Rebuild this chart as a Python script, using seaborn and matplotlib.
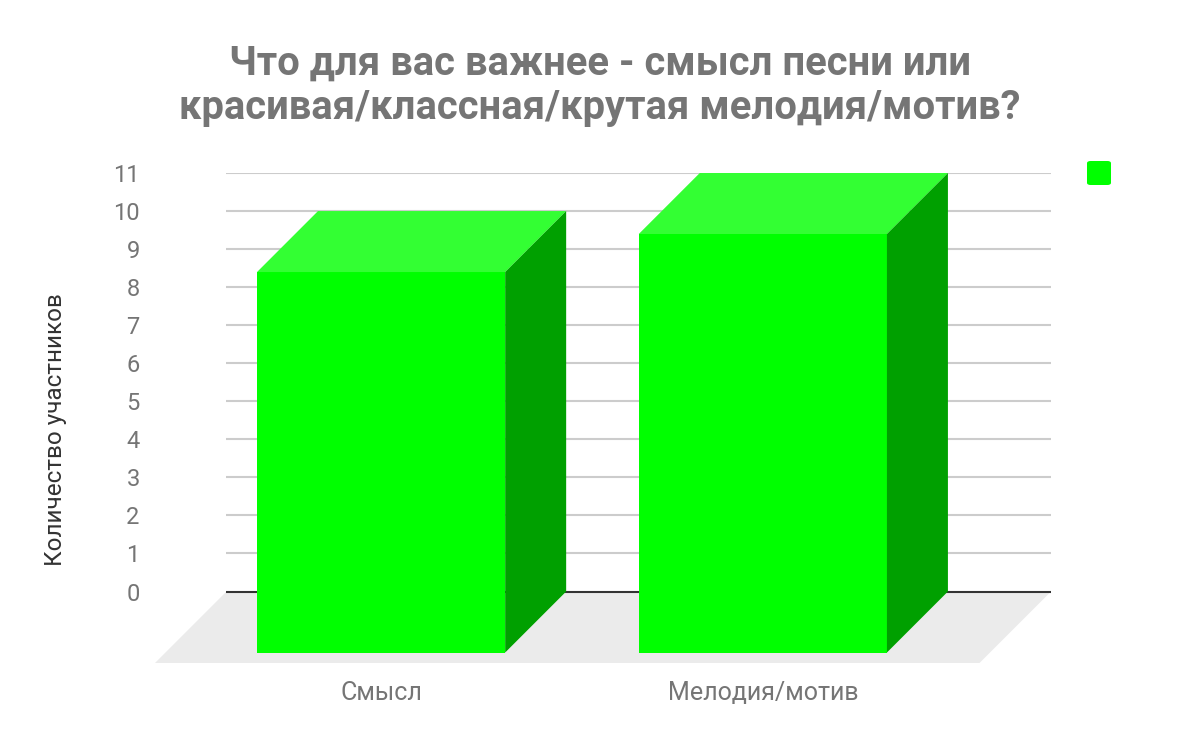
import matplotlib
matplotlib.use("Agg")
import matplotlib.pyplot as plt
import seaborn as sns
from matplotlib.patches import Polygon, FancyBboxPatch

# Данные
categories = ["Смысл", "Мелодия/мотив"]
values = [10, 11]
y_ticks = list(range(0, 12))

title = "Что для вас важнее - смысл песни или\nкрасивая/классная/крутая мелодия/мотив?"
y_label = "Количество участников"

# Цвета
front_color = "#00ff00"
top_color = "#33ff33"
side_color = "#00a000"
floor_color = "#ebebeb"
grid_color = "#cccccc"
text_color = "#757575"

sns.set_style("white")
plt.rcParams["font.family"] = ["Roboto", "DejaVu Sans"]

W, H = 1200, 742
fig = plt.figure(figsize=(12, 7.42), dpi=100)

# оси в пикселях (с запасом под "пол")
left_px, right_px, top_px, bottom_px = 155, 1051, 173, 663
ax = fig.add_axes([left_px / W, (H - bottom_px) / H,
                   (right_px - left_px) / W, (bottom_px - top_px) / H])

sns.barplot(x=categories, y=values, color=front_color, width=0.65,
            saturation=1, ax=ax, zorder=3)

# масштаб: px на единицу
x_lo, x_hi = -0.752, 1.595
y_lo, y_hi = -1.879, 11
ax.set_xlim(x_lo, x_hi)
ax.set_ylim(y_lo, y_hi)
px_x = (right_px - left_px) / (x_hi - x_lo)
px_y = (bottom_px - top_px) / (y_hi - y_lo)

# глубина объёма
bar_dx, bar_dy = 61 / px_x, 61 / px_y
floor_dx, floor_dy = -y_lo * px_y / px_x, -y_lo
back_left = x_lo + floor_dx

# пол
ax.add_patch(Polygon([(x_lo, y_lo), (x_hi - floor_dx, y_lo), (x_hi, 0), (back_left, 0)],
                     closed=True, facecolor=floor_color, edgecolor="none", zorder=0))
# сетка
ax.hlines(y_ticks[1:], back_left, x_hi, color=grid_color, lw=1.5, zorder=1)
ax.hlines(0, back_left, x_hi, color="#333333", lw=1.5, zorder=1)

# объёмные столбцы
for p in list(ax.patches):
    if not hasattr(p, "get_height") or p.get_height() == 0:
        continue
    x, w, h = p.get_x(), p.get_width(), p.get_height()
    p.set_x(x - bar_dx)
    p.set_y(-bar_dy)
    p.set_edgecolor("none")
    top = Polygon([(x - bar_dx, h - bar_dy), (x + w - bar_dx, h - bar_dy), (x + w, h), (x, h)],
                  closed=True, facecolor=top_color, edgecolor="none", zorder=3)
    side = Polygon([(x + w - bar_dx, h - bar_dy), (x + w, h), (x + w, 0), (x + w - bar_dx, -bar_dy)],
                   closed=True, facecolor=side_color, edgecolor="none", zorder=3)
    ax.add_patch(top)
    ax.add_patch(side)

for s in ax.spines.values():
    s.set_visible(False)

ax.set_yticks(y_ticks)
ax.set_yticklabels([str(t) for t in y_ticks])
ax.set_xticks([i - bar_dx for i in range(len(categories))])
ax.set_xticklabels(categories)
ax.tick_params(axis="y", length=0, pad=11, labelsize=17, labelcolor=text_color)
ax.tick_params(axis="x", length=0, pad=13, labelsize=18, labelcolor=text_color)
ax.set_xlabel("")
ax.set_ylabel(y_label, fontsize=17.5, color="#333333", va="center")
ax.yaxis.set_label_coords((55 - left_px) / (right_px - left_px), (bottom_px - 430) / (bottom_px - top_px))

# заголовок
fig.text(0.5, 1 - 45 / H, title, ha="center", va="top", fontsize=28.8, fontweight="bold",
         color=text_color, linespacing=1.2)

# легенда (без подписи)
fig.patches.append(FancyBboxPatch((1087 / W, 1 - 185 / H), 24 / W, 24 / H,
                                  boxstyle="round,pad=0,rounding_size=0.003",
                                  transform=fig.transFigure, facecolor=front_color,
                                  edgecolor="none", figure=fig))

fig.savefig("out.png", dpi=100)
